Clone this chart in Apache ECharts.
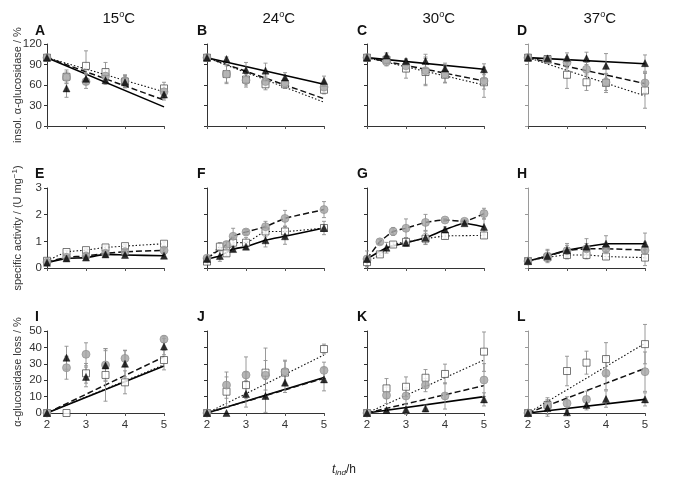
<!DOCTYPE html>
<html><head><meta charset="utf-8">
<script src="https://cdn.jsdelivr.net/npm/echarts@6/dist/echarts.min.js"></script>
<style>html,body{margin:0;padding:0;background:#fff}#c{width:685px;height:484px}</style>
</head><body><div id="c"></div>
<script>
// x values: induction time (h); each point [t, value, error]
// Row 1: insoluble alpha-glucosidase (%)
const A_tri = [[2,100,0],[2.5,55,13],[3,69,8],[3.5,67,6],[4,64,8],[5,46,8]];
const A_cir = [[2,100,0],[2.5,71,8],[3,65,10],[3.5,73,10],[4,66,9],[5,50,9]];
const A_sq  = [[2,100,0],[2.5,72,10],[3,88,22],[3.5,79,14],[4,65,9],[5,55,9]];
const B_tri = [[2,100,4],[2.5,98,3],[3,82,11],[3.5,81,11],[4,71,7],[5,66,7]];
const B_cir = [[2,100,0],[2.5,76,14],[3,67,10],[3.5,65,8],[4,63,6],[5,57,7]];
const B_sq  = [[2,100,0],[2.5,76,12],[3,68,8],[3.5,61,8],[4,61,6],[5,53,6]];
const C_tri = [[2,100,0],[2.5,103,4],[3,95,3],[3.5,95,10],[4,84,8],[5,83,8]];
const C_cir = [[2,100,0],[2.5,94,6],[3,88,8],[3.5,81,20],[4,76,12],[5,66,12]];
const C_sq  = [[2,100,0],[2.5,97,5],[3,84,14],[3.5,79,20],[4,75,12],[5,64,22]];
const D_tri = [[2,100,0],[2.5,99,4],[3,100,7],[3.5,99,9],[4,88,18],[5,92,12]];
const D_cir = [[2,100,0],[2.5,97,5],[3,93,8],[3.5,83,10],[4,64,12],[5,63,14]];
const D_sq  = [[2,100,0],[2.5,98,4],[3,75,20],[3.5,64,12],[4,63,14],[5,52,26]];
// fitted line values at t = 5 h  [triangle, circle, square]; start at 100 % for t = 2 h
const A_fit = [28, 38, 50];
const B_fit = [61, 40, 35];
const C_fit = [83, 66, 60];
const D_fit = [91, 62, 44];

// Row 2: specific activity (U mg-1)
const E_tri = [[2,0.2,0.03],[2.5,0.36,0.05],[3,0.39,0.05],[3.5,0.51,0.06],[4,0.49,0.05],[5,0.46,0.05]];
const E_cir = [[2,0.22,0.03],[2.5,0.4,0.05],[3,0.45,0.05],[3.5,0.55,0.05],[4,0.61,0.06],[5,0.66,0.06]];
const E_sq  = [[2,0.27,0.04],[2.5,0.6,0.05],[3,0.67,0.05],[3.5,0.77,0.06],[4,0.82,0.06],[5,0.91,0.07]];
const F_tri = [[2,0.34,0.05],[2.33,0.45,0.2],[2.67,0.71,0.1],[3,0.8,0.08],[3.5,1.04,0.25],[4,1.19,0.3],[5,1.5,0.1]];
const F_cir = [[2,0.37,0.05],[2.5,0.88,0.1],[2.67,1.19,0.3],[3,1.35,0.1],[3.5,1.55,0.2],[4,1.86,0.3],[5,2.19,0.3]];
const F_sq  = [[2,0.24,0.05],[2.33,0.8,0.15],[2.5,0.55,0.1],[2.67,0.95,0.2],[3,0.95,0.2],[3.5,1.37,0.2],[4,1.37,0.2],[5,1.5,0.25]];
const G_tri = [[2,0.34,0.3],[2.5,0.76,0.2],[3,0.94,0.1],[3.5,1.13,0.25],[4,1.44,0.1],[4.5,1.68,0.05],[5,1.54,0.3]];
const G_cir = [[2,0.34,0.05],[2.33,0.98,0.1],[2.67,1.37,0.15],[3,1.49,0.35],[3.5,1.71,0.3],[4,1.8,0.05],[4.5,1.75,0.05],[5,2.04,0.2]];
const G_sq  = [[2,0.22,0.15],[2.33,0.51,0.05],[2.67,0.88,0.1],[3,0.98,0.15],[3.5,1.1,0.2],[4,1.2,0.1],[5,1.22,0.1]];
const H_tri = [[2,0.26,0.05],[2.5,0.45,0.25],[3,0.67,0.25],[3.5,0.8,0.3],[4,0.91,0.3],[5,0.91,0.4]];
const H_cir = [[2,0.26,0.05],[2.5,0.45,0.2],[3,0.65,0.2],[3.5,0.72,0.2],[4,0.72,0.2],[5,0.67,0.3]];
const H_sq  = [[2,0.26,0.05],[2.5,0.4,0.1],[3,0.49,0.15],[3.5,0.49,0.15],[4,0.43,0.1],[5,0.39,0.3]];

// Row 3: alpha-glucosidase loss (%)
const I_tri = [[2,0,0],[2.5,33.7,7],[3,22,6],[3.5,29,9],[4,30,8],[5,40.5,5]];
const I_cir = [[2,0,0],[2.5,27.6,7],[3,35.8,7],[3.5,29.3,10],[4,33.3,5],[5,45,2]];
const I_sq  = [[2,0,0],[2.5,0,0],[3,24.2,6],[3.5,23.2,16],[4,18.7,7],[5,32.3,6]];
const J_tri = [[2,0,0],[2.5,0,0],[3,11.6,8],[3.5,10.4,10],[4,18.5,6],[5,20.5,7]];
const J_cir = [[2,0,0],[2.5,17,8],[3,23.2,11],[3.5,23,9],[4,25.2,7],[5,26,5]];
const J_sq  = [[2,0,0],[2.5,13,9],[3,17,8],[3.5,24.6,15],[4,24.6,7],[5,39,3]];
const K_tri = [[2,0,0],[2.5,1.8,1],[3,2.2,3],[3.5,2.8,2],[5,8.3,4]];
const K_cir = [[2,0,0],[2.5,10.8,5],[3,10.4,5],[3.5,17,4],[4,10.4,8],[5,20.1,10]];
const K_sq  = [[2,0,0],[2.5,15,6],[3,16,6],[3.5,21.5,5],[4,23.8,6],[5,37.4,12]];
const L_tri = [[2,0,0],[2.5,3,5],[3,0.4,1],[3.5,4.9,3],[4,8.5,5],[5,8.3,4]];
const L_cir = [[2,0,0],[2.5,4.3,5],[3,5.9,4],[3.5,8.3,5],[4,24.2,10],[5,25.2,12]];
const L_sq  = [[2,0,0],[2.5,4.9,3],[3,25.6,9],[3.5,30.7,7],[4,32.9,10],[5,42,12]];
const I_fit = [28.6, 34.3, 29.4];
const J_fit = [21.7, 21.2, 35.4];
const K_fit = [10, 16.7, 32.3];
const L_fit = [8.3, 27.2, 42.5];

const temps = ['15','24','30','37'];
const letters = ['A','B','C','D','E','F','G','H','I','J','K','L'];
const xTicks = [2,3,4,5];
const row1Ticks = [0,30,60,90,120];
const row2Ticks = [0,1,2,3];
const row3Ticks = [0,10,20,30,40,50];

const panels = [
  {tri:A_tri,cir:A_cir,sq:A_sq,fit:A_fit},{tri:B_tri,cir:B_cir,sq:B_sq,fit:B_fit},
  {tri:C_tri,cir:C_cir,sq:C_sq,fit:C_fit},{tri:D_tri,cir:D_cir,sq:D_sq,fit:D_fit},
  {tri:E_tri,cir:E_cir,sq:E_sq},{tri:F_tri,cir:F_cir,sq:F_sq},
  {tri:G_tri,cir:G_cir,sq:G_sq},{tri:H_tri,cir:H_cir,sq:H_sq},
  {tri:I_tri,cir:I_cir,sq:I_sq,fit:I_fit},{tri:J_tri,cir:J_cir,sq:J_sq,fit:J_fit},
  {tri:K_tri,cir:K_cir,sq:K_sq,fit:K_fit},{tri:L_tri,cir:L_cir,sq:L_sq,fit:L_fit}
];

const COLS = [47, 207, 367, 528];
const PW = 117;
const ROWT = [44, 188, 331];
const ROWH = [82, 80, 82];
const rowTicks = [row1Ticks, row2Ticks, row3Ticks];
const rowStart = [100, null, 0];
const FONT = 'Liberation Sans, Arial, sans-serif';

const grid = [], xAxis = [], yAxis = [], series = [], graphic = [];

const lineStyles = {
  tri: {color:'#000', width:1.6, type:'solid'},
  cir: {color:'#111', width:1.5, type:[6,3]},
  sq:  {color:'#111', width:1.1, type:[1.5,2]}
};
const symbols = {
  tri: {symbol:'triangle', size:7, style:{color:'#000', borderColor:'#000', borderWidth:0.5}},
  cir: {symbol:'circle', size:8, style:{color:'#a3a3a3', borderColor:'#8c8c8c', borderWidth:0.8}},
  sq:  {symbol:'rect', size:7, style:{color:'#fff', borderColor:'#444', borderWidth:0.9}}
};

function errRender(params, api){
  const x = api.value(0), y = api.value(1), e = api.value(2);
  if (!e) return null;
  const p1 = api.coord([x, y+e]);
  const p2 = api.coord([x, y-e]);
  const st = {stroke:'#8f8f8f', lineWidth:0.9};
  return {type:'group', children:[
    {type:'line', shape:{x1:p1[0],y1:p1[1],x2:p2[0],y2:p2[1]}, style:st},
    {type:'line', shape:{x1:p1[0]-2,y1:p1[1],x2:p1[0]+2,y2:p1[1]}, style:st},
    {type:'line', shape:{x1:p2[0]-2,y1:p2[1],x2:p2[0]+2,y2:p2[1]}, style:st}
  ]};
}

panels.forEach((p, i) => {
  const r = Math.floor(i/4), c = i%4;
  const ticks = rowTicks[r];
  grid.push({left: COLS[c], top: ROWT[r], width: PW, height: ROWH[r], containLabel:false});
  const axisCol = c === 3 ? '#9a9a9a' : '#333';
  xAxis.push({type:'value', gridIndex:i, min:2, max:5, interval:1,
    axisLine:{lineStyle:{color:'#333', width:1}},
    axisTick:{show:true, length:3, lineStyle:{color:'#555'}},
    axisLabel:{show: r===2, fontSize:11.5, color:'#333', fontFamily:FONT, margin:6},
    splitLine:{show:false}});
  yAxis.push({type:'value', gridIndex:i, min:ticks[0], max:ticks[ticks.length-1],
    interval: ticks[1]-ticks[0],
    axisLine:{show:true, lineStyle:{color:axisCol, width:1}},
    axisTick:{show:true, length:3, lineStyle:{color:axisCol}},
    axisLabel:{show: c===0, fontSize:11.5, color:'#333', fontFamily:FONT, margin:5},
    splitLine:{show:false}});
  ['tri','cir','sq'].forEach(k => {
    let ld;
    if (p.fit) {
      const idx = {tri:0,cir:1,sq:2}[k];
      ld = [[2, rowStart[r]], [5, p.fit[idx]]];
    } else {
      ld = p[k].map(d => [d[0], d[1]]);
    }
    series.push({type:'line', xAxisIndex:i, yAxisIndex:i, data:ld, showSymbol:false,
      smooth: p.fit ? false : 0.15, lineStyle:lineStyles[k], z:2, silent:true, animation:false});
  });
  ['sq','cir','tri'].forEach(k => {
    series.push({type:'custom', xAxisIndex:i, yAxisIndex:i, data:p[k], renderItem:errRender, z:3, silent:true, animation:false});
  });
  ['sq','cir','tri'].forEach(k => {
    const s = symbols[k];
    series.push({type:'scatter', xAxisIndex:i, yAxisIndex:i, data:p[k].map(d=>[d[0],d[1]]),
      symbol:s.symbol, symbolSize:s.size, itemStyle:s.style, z:4, silent:true, animation:false});
  });
  const lx = [35, 197, 357, 517][c];
  const ly = [24, 167, 310][r];
  graphic.push({type:'text', left:lx, top:ly, style:{text:letters[i], font:'bold 14px '+FONT, fill:'#111'}});
});

temps.forEach((t, c) => {
  graphic.push({type:'text', left: COLS[c] + PW/2 + 13 - 16, top: 10,
    style:{text:'{n|'+t+'}{s|o}{n|C}', rich:{
      n:{fontSize:15, fontFamily:FONT, fill:'#111', color:'#111'},
      s:{fontSize:9, fontFamily:FONT, color:'#111', fill:'#111', padding:[0,0,9,0]}}}});
});

const yl = [
  {t:'insol. α-glucosidase / %', y:85},
  {t:'specific activity / (U mg{s|−1})', y:228},
  {t:'α-glucosidase loss / %', y:372}
];
yl.forEach(o => {
  graphic.push({type:'text', x:18, y:o.y, rotation:Math.PI/2,
    style:{text:o.t, font:'11px '+FONT, fill:'#333', align:'center', verticalAlign:'middle',
      rich:{s:{fontSize:8, fontFamily:FONT, fill:'#333', color:'#333', padding:[0,0,7,0]}}}});
});

graphic.push({type:'text', left:332, top:464,
  style:{text:'{i|t}{b|ind}{n|/h}', rich:{
    i:{fontSize:12, fontStyle:'italic', fontFamily:FONT, color:'#222', fill:'#222'},
    b:{fontSize:8, fontStyle:'italic', fontFamily:FONT, color:'#222', fill:'#222', padding:[6,0,0,0]},
    n:{fontSize:12, fontFamily:FONT, color:'#222', fill:'#222'}}}});

const chart = echarts.init(document.getElementById('c'), null, {renderer:'canvas'});
chart.setOption({animation:false, backgroundColor:'#fff', grid, xAxis, yAxis, series, graphic});
</script>
</body></html>
